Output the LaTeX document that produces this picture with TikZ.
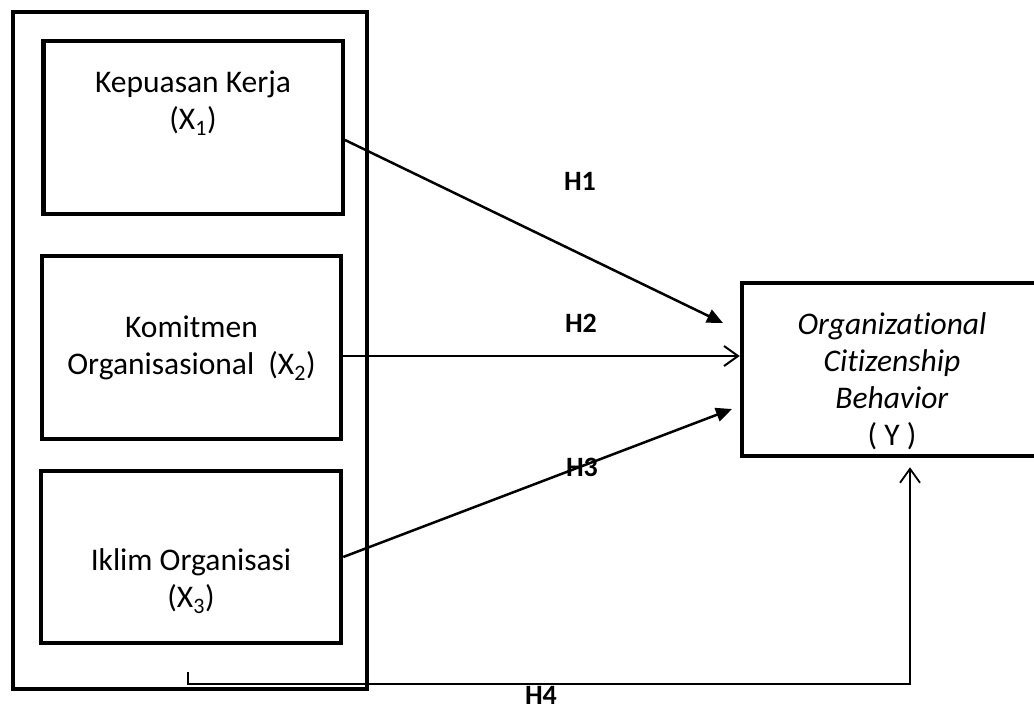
\documentclass[tikz,border=0pt]{standalone}
\usepackage{fontspec}
\setmainfont{Carlito}[Ligatures=NoCommon]
\usetikzlibrary{arrows.meta}

\begin{document}
\begin{tikzpicture}[
    x=1pt, y=-1pt,
    frame/.style={draw, line width=4.5pt, inner sep=0pt},
    vartext/.style={align=center, font=\fontsize{31.5}{37}\selectfont, inner sep=0pt},
    hlabel/.style={font=\fontsize{28}{30}\selectfont\bfseries, inner sep=0pt},
    filledarrow/.style={-{Triangle[length=16pt,width=14pt]}, line width=2.5pt},
    openarrow/.style={-{Straight Barb[length=14pt,width=20pt]}, line width=2pt}
  ]
  \useasboundingbox (0,0) rectangle (1034,710);

  % kelompok variabel bebas
  \node[frame, minimum width=354pt, minimum height=677pt] (group) at (190,350.5) {};
  \node[frame, minimum width=299.5pt, minimum height=173pt] (x1) at (193,127.5) {};
  \node[frame, minimum width=299pt, minimum height=183pt] (x2) at (191.5,347.5) {};
  \node[frame, minimum width=300pt, minimum height=172pt] (x3) at (191,557) {};
  \node[vartext] (x1text) at (193,103) {Kepuasan Kerja\\(X\textsubscript{1})};
  \node[vartext] (x2text) at (191.5,348) {Komitmen\\Organisasional~ (X\textsubscript{2})};
  \node[vartext] (x3text) at (191,581) {Iklim Organisasi\\(X\textsubscript{3})};

  % variabel terikat
  \node[frame, minimum width=300pt, minimum height=173pt] (ocb) at (892,369.5) {};
  \node[vartext] (ocbtext) at (892,381) {\textit{Organizational}\\\textit{Citizenship}\\\textit{Behavior}\\( Y )};

  % hipotesis
  \coordinate (h1end) at (723,323);
  \coordinate (h3end) at (732,409);
  \coordinate (h4start) at (188,672);
  \coordinate (h4turn) at (910,684);
  \draw[filledarrow] ([yshift=-12.5pt]x1.east) -- (h1end);
  \draw[openarrow] ([yshift=-8.5pt]x2.east) -- ([yshift=13.5pt]ocb.west);
  \draw[filledarrow] (x3.east) -- (h3end);
  \draw[openarrow, line width=1.8pt] (h4start) |- (h4turn) -- ([yshift=-9pt]ocb.south -| h4turn);

  \node[hlabel] (h1) at (580,181) {H1};
  \node[hlabel] (h2) at (581,323) {H2};
  \node[hlabel] (h3) at (582,467) {H3};
  \node[hlabel] (h4) at (541,695) {H4};
\end{tikzpicture}
\end{document}
